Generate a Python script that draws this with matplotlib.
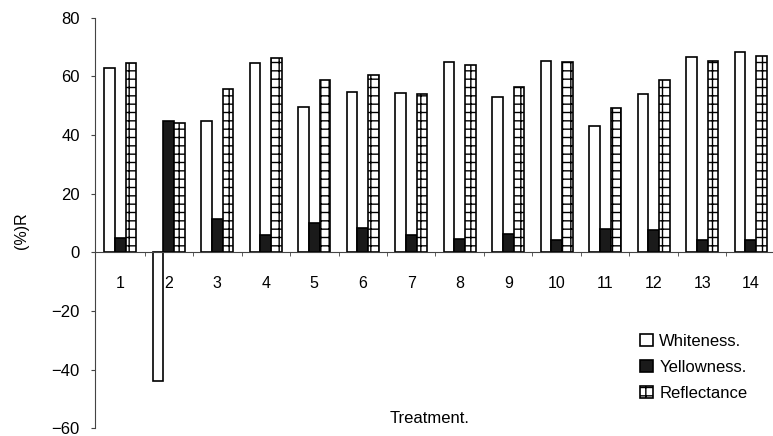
import numpy as np
import matplotlib.pyplot as plt

plt.rcParams['font.family'] = ['Liberation Sans', 'DejaVu Sans']
plt.rcParams['hatch.linewidth'] = 1.0

treatments = list(range(1, 15))
whiteness = [62.9, -43.8, 44.9, 64.7, 49.7, 54.8, 54.2, 64.8, 53.1, 65.4, 43.2, 54.0, 66.8, 68.5]
yellowness = [4.8, 44.9, 11.5, 5.8, 9.9, 8.2, 5.8, 4.7, 6.4, 4.3, 8.1, 7.5, 4.1, 4.3]
reflectance = [64.7, 44.0, 55.7, 66.2, 58.8, 60.5, 53.9, 63.9, 56.5, 64.8, 49.1, 58.8, 65.3, 67.0]

fig = plt.figure(figsize=(7.73, 4.36), dpi=100)
ax = fig.add_axes([0.123, 0.018, 0.877, 0.941])

x = np.array(treatments)
w = 0.22
ax.bar(x - w, whiteness, w, color='white', edgecolor='black', linewidth=1.2, label='Whiteness.')
ax.bar(x, yellowness, w, color='#1a1a1a', edgecolor='black', linewidth=1.2, label='Yellowness.')
ax.bar(x + w, reflectance, w, color='white', edgecolor='black', linewidth=1.2,
       hatch='++', label='Reflectance')

ax.set_xlim(0.48, 14.46)
ax.set_ylim(-60, 80)
ax.set_yticks(np.arange(-60, 81, 20))

ax.spines['top'].set_visible(False)
ax.spines['right'].set_visible(False)
ax.spines['bottom'].set_position(('data', 0))
for s in ('left', 'bottom'):
    ax.spines[s].set_color('#444444')
    ax.spines[s].set_linewidth(0.8)

ax.set_xticks(x)
ax.set_xticklabels([str(t) for t in treatments], fontsize=11.5)
ax.set_xticks(x[:-1] + 0.5, minor=True)
ax.tick_params(axis='x', which='major', length=0, pad=17)
ax.tick_params(axis='x', which='minor', length=3, direction='out', color='#444444')
ax.tick_params(axis='y', length=3, direction='out', labelsize=12, pad=8, color='#444444')

fig.text(0.028, 0.47, '(%)R', rotation=90, fontsize=11.5, ha='center', va='center')
fig.text(0.556, 0.04, 'Treatment.', fontsize=12, ha='center', va='center')

ax.legend(loc='upper left', bbox_to_anchor=(0.828, 0.235), bbox_transform=fig.transFigure,
          frameon=False, fontsize=12, handlelength=0.8, handleheight=0.8,
          handletextpad=0.35, labelspacing=0.65, borderaxespad=0, borderpad=0)

fig.savefig('out.png', dpi=100)
